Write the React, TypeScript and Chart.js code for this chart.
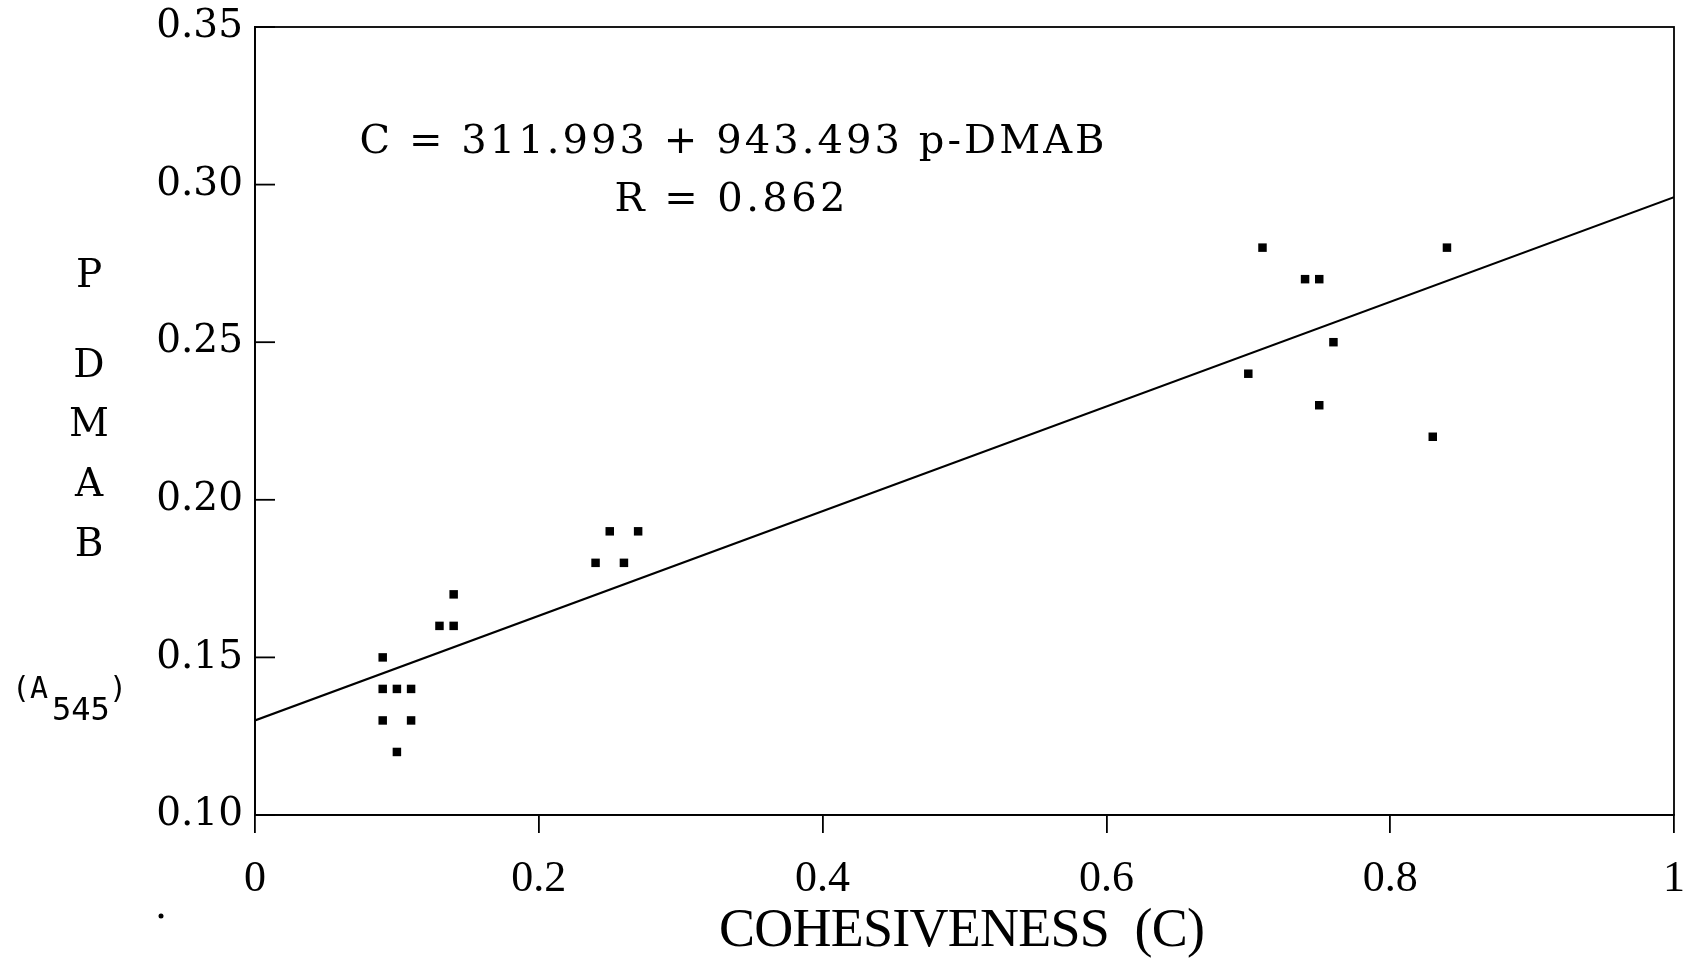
import React, { useEffect, useRef } from "react";
import { Chart, registerables } from "chart.js";

Chart.register(...registerables);

// ---- data ----
const cohesiveness: number[] = [
  0.09, 0.09, 0.1, 0.11, 0.09, 0.11, 0.1, 0.13, 0.14, 0.14,
  0.24, 0.26, 0.25, 0.27,
  0.7, 0.71, 0.74, 0.75, 0.76, 0.75, 0.83, 0.84,
];
const pdmab: number[] = [
  0.15, 0.14, 0.14, 0.14, 0.13, 0.13, 0.12, 0.16, 0.16, 0.17,
  0.18, 0.18, 0.19, 0.19,
  0.24, 0.28, 0.27, 0.27, 0.25, 0.23, 0.22, 0.28,
];
const fitX: number[] = [0, 1];
const fitY: number[] = [0.13, 0.296];

const xTickLabels: string[] = ["0", "0.2", "0.4", "0.6", "0.8", "1"];
const yTickLabels: string[] = ["0.10", "0.15", "0.20", "0.25", "0.30", "0.35"];

const equationText = "C = 311.993 + 943.493 p-DMAB";
const rText = "R = 0.862";
const xTitle = "COHESIVENESS  (C)";
const yTitleLetters: string[] = ["P", "D", "M", "A", "B"];

function drawSpaced(ctx: CanvasRenderingContext2D, text: string, cx: number, cy: number, font: string, target: number) {
  ctx.save();
  ctx.font = font;
  (ctx as any).letterSpacing = "0px";
  const w = ctx.measureText(text).width;
  const n = text.length;
  const sp = n > 1 ? (target - w) / (n - 1) : 0;
  (ctx as any).letterSpacing = sp + "px";
  ctx.textAlign = "left";
  ctx.textBaseline = "middle";
  ctx.fillText(text, cx - target / 2, cy);
  ctx.restore();
}

const decorPlugin = {
  id: "decor",
  afterDraw(chart: any) {
    const ctx: CanvasRenderingContext2D = chart.ctx;
    const { left, right, top, bottom } = chart.chartArea;
    ctx.save();
    ctx.strokeStyle = "#000";
    ctx.fillStyle = "#000";
    ctx.lineWidth = 1.8;
    ctx.strokeRect(left, top, right - left, bottom - top);
    // inward y ticks
    const ys = chart.scales.y;
    ys.ticks.forEach((t: any) => {
      const py = ys.getPixelForValue(t.value);
      ctx.beginPath();
      ctx.moveTo(left, py);
      ctx.lineTo(left + 20, py);
      ctx.stroke();
    });
    // annotation
    drawSpaced(ctx, equationText, 732, 143, '40px "DejaVu Serif"', 745);
    drawSpaced(ctx, rText, 730, 201, '40px "DejaVu Serif"', 231);
    // x title
    drawSpaced(ctx, xTitle, 962, 932, '54px "Liberation Serif"', 486);
    // y title stacked letters
    const ly = [277, 367, 426, 486, 546];
    ctx.font = '39px "DejaVu Serif"';
    ctx.textAlign = "center";
    ctx.textBaseline = "middle";
    yTitleLetters.forEach((l, i) => ctx.fillText(l, 89, ly[i]));
    // (A545)
    ctx.textAlign = "left";
    ctx.font = '30px "DejaVu Sans Mono"';
    ctx.fillText("(A", 12, 690);
    ctx.font = '32px "DejaVu Sans Mono"';
    ctx.fillText("545", 52, 712);
    ctx.font = '30px "DejaVu Sans Mono"';
    ctx.fillText(")", 109, 690);
    // stray dot
    ctx.beginPath();
    ctx.arc(161, 916, 2.5, 0, Math.PI * 2);
    ctx.fill();
    ctx.restore();
  },
};

export default function App() {
  const ref = useRef<HTMLCanvasElement>(null);
  useEffect(() => {
    document.body.style.margin = "0";
    const canvas = ref.current!;
    const chart = new Chart(canvas, {
      type: "scatter",
      data: {
        datasets: [
          {
            type: "line",
            data: fitX.map((x, i) => ({ x, y: fitY[i] })),
            borderColor: "#000",
            borderWidth: 2,
            pointRadius: 0,
            fill: false,
          } as any,
          {
            data: cohesiveness.map((x, i) => ({ x, y: pdmab[i] })),
            pointStyle: "rect",
            pointRadius: 6,
            backgroundColor: "#000",
            borderColor: "#000",
            borderWidth: 0,
          },
        ],
      },
      options: {
        animation: false,
        responsive: false,
        events: [],
        layout: { padding: { left: 0, right: 13, top: 27, bottom: 0 } },
        plugins: { legend: { display: false }, tooltip: { enabled: false } },
        scales: {
          x: {
            type: "linear",
            min: 0,
            max: 1,
            ticks: {
              stepSize: 0.2,
              color: "#000",
              font: { family: "Liberation Serif", size: 44 },
              padding: 20,
              maxRotation: 0,
              callback: (_v: any, i: number) => xTickLabels[i],
            },
            grid: { drawOnChartArea: false, drawTicks: true, tickLength: 18, color: "#000", lineWidth: 1.8 },
            border: { display: true, color: "#000", width: 1.8 },
            afterFit: (s: any) => {
              s.height = 146;
              s.paddingLeft = 0;
              s.paddingRight = 0;
            },
          },
          y: {
            type: "linear",
            min: 0.1,
            max: 0.35,
            ticks: {
              stepSize: 0.05,
              color: "#000",
              font: { family: "DejaVu Serif", size: 39 },
              padding: 12,
              callback: (_v: any, i: number) => yTickLabels[i],
            },
            grid: { display: false, drawTicks: false },
            border: { display: true, color: "#000", width: 1.8 },
            afterFit: (s: any) => {
              s.width = 255;
              s.paddingTop = 0;
              s.paddingBottom = 0;
            },
          },
        },
      },
      plugins: [decorPlugin],
    });
    return () => chart.destroy();
  }, []);
  return <canvas ref={ref} width={1687} height={961} style={{ display: "block" }} />;
}
